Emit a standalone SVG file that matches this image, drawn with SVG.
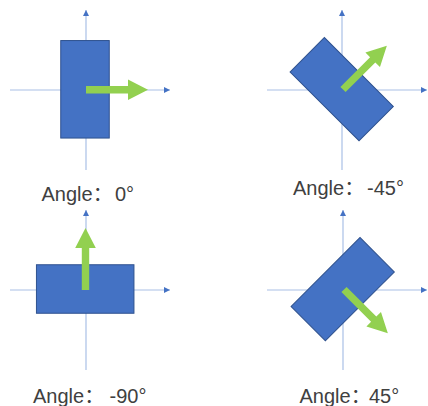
<svg xmlns="http://www.w3.org/2000/svg" width="428" height="406" viewBox="0 0 428 406">
<style>
.axis{stroke:#A9C0E6;stroke-width:1.2;fill:none}
.box{fill:#4472C4;stroke:#2F528F;stroke-width:1}
.dir{fill:#92D050}
.lbl{font-family:"Liberation Sans","Noto Sans CJK SC",sans-serif;font-size:20px;fill:#404040}
</style>
<defs>
<marker id="ah" viewBox="0 0 10 10" refX="10" refY="5" markerWidth="6" markerHeight="6" markerUnits="userSpaceOnUse" orient="auto">
<path d="M0,0 L10,5 L0,10 Z" fill="#4472C4"/>
</marker>
<path id="garrow" d="M0,-3.7 H42 V-10.3 L62,0 L42,10.3 V3.7 H0 Z"/>
</defs>
<g id="connectors">
<line class="axis" x1="86" y1="170" x2="86" y2="10" marker-end="url(#ah)"/>
<line class="axis" x1="10" y1="90" x2="170" y2="90" marker-end="url(#ah)"/>
<line class="axis" x1="342" y1="170" x2="342" y2="10" marker-end="url(#ah)"/>
<line class="axis" x1="267" y1="90" x2="427" y2="90" marker-end="url(#ah)"/>
<line class="axis" x1="86" y1="370" x2="86" y2="210" marker-end="url(#ah)"/>
<line class="axis" x1="10" y1="290" x2="170" y2="290" marker-end="url(#ah)"/>
<line class="axis" x1="343" y1="370" x2="343" y2="210" marker-end="url(#ah)"/>
<line class="axis" x1="267" y1="290" x2="427" y2="290" marker-end="url(#ah)"/>
</g>
<g id="panel-0">
<rect class="box" x="-24.25" y="-48.75" width="48.5" height="97.5" transform="translate(85,89.3)"/>
<use href="#garrow" class="dir" transform="translate(86,89.7)"/>
<text class="lbl" x="41.5" y="200.5">Angle：<tspan x="115">0°</tspan></text>
</g>
<g id="panel-m45">
<rect class="box" x="-24.25" y="-48.75" width="48.5" height="97.5" transform="translate(341.7,89.2) rotate(-45)"/>
<use href="#garrow" class="dir" transform="translate(343,89.5) rotate(-45)"/>
<text class="lbl" x="293" y="194.5">Angle：<tspan x="367">-45°</tspan></text>
</g>
<g id="panel-m90">
<rect class="box" x="-24.25" y="-48.75" width="48.5" height="97.5" transform="translate(85.2,289) rotate(-90)"/>
<use href="#garrow" class="dir" transform="translate(85.5,290) rotate(-90)"/>
<text class="lbl" x="33" y="403">Angle：<tspan x="109.5">-90°</tspan></text>
</g>
<g id="panel-45">
<rect class="box" x="-24.25" y="-48.75" width="48.5" height="97.5" transform="translate(342.7,289.2) rotate(45)"/>
<use href="#garrow" class="dir" transform="translate(344,289.5) rotate(45)"/>
<text class="lbl" x="299.5" y="403">Angle：<tspan x="369">45°</tspan></text>
</g>
</svg>
